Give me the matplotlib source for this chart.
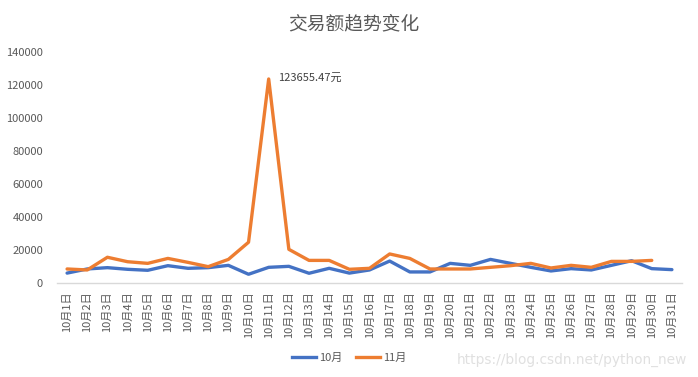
import matplotlib
matplotlib.use("Agg")
import matplotlib.pyplot as plt
from matplotlib.lines import Line2D

plt.rcParams['font.family'] = ['Noto Sans CJK SC', 'DejaVu Sans']

days = [f"10月{i}日" for i in range(1, 32)]
oct_values = [6000, 8500, 9300, 8300, 7700, 10500, 8900, 9300, 10700, 5300,
              9500, 10100, 5900, 8900, 6000, 7900, 13300, 6700, 6700, 11900,
              10700, 14300, 11900, 9500, 7300, 8700, 7900, 10700, 13500, 8700, 8100]
nov_values = [8500, 7900, 15600, 12900, 11900, 14900, 12500, 9900, 14300, 24700,
              123655.47, 20400, 13700, 13700, 8300, 8900, 17600, 14900, 8500, 8500,
              8500, 9500, 10500, 11900, 9100, 10700, 9500, 13100, 13100, 13700]
peak_label = "123655.47元"
yticks = [0, 20000, 40000, 60000, 80000, 100000, 120000, 140000]

BLUE = "#4472C4"
ORANGE = "#ED7D31"
GREY = "#595959"

fig = plt.figure(figsize=(6.98, 3.77), dpi=100)
ax = fig.add_axes([57/698, 1-283/377, (682-57)/698, (283-52)/377])

x_oct = list(range(len(oct_values)))
x_nov = list(range(len(nov_values)))
ax.plot(x_oct, oct_values, color=BLUE, lw=2.4, solid_joinstyle='round', solid_capstyle='round')
ax.plot(x_nov, nov_values, color=ORANGE, lw=2.4, solid_joinstyle='round', solid_capstyle='round')

ax.set_xlim(-0.5, len(days) - 0.5)
ax.set_ylim(0, 140000)
ax.set_yticks(yticks)
ax.set_yticklabels([str(v) for v in yticks], fontsize=8, color=GREY)
ax.set_xticks(range(len(days)))
ax.set_xticklabels(days, rotation=90, fontsize=8, color=GREY)
ax.tick_params(axis='both', length=0, pad=6)
ax.tick_params(axis='y', pad=10)

for s in ['top', 'right', 'left']:
    ax.spines[s].set_visible(False)
ax.spines['bottom'].set_color('#d9d9d9')
ax.spines['bottom'].set_linewidth(1)

pk = nov_values.index(max(nov_values))
ax.annotate(peak_label, xy=(pk, nov_values[pk]), xytext=(7, 0.5), textcoords='offset points',
            fontsize=8, color='#404040', ha='left', va='center')

fig.text(354/698, 1-23.5/377, "交易额趋势变化", ha='center', va='center', fontsize=13.5, color=GREY)

handles = [Line2D([], [], color=BLUE, lw=2.4), Line2D([], [], color=ORANGE, lw=2.4)]
fig.legend(handles, ["10月", "11月"], loc='center', bbox_to_anchor=(349/698, 1-358/377),
           ncol=2, frameon=False, fontsize=8, handlelength=2.2, handletextpad=0.25,
           columnspacing=1.2, labelcolor=GREY)

fig.text(687/698, 1-360/377, "https://blog.csdn.net/python_new", ha='right', va='center',
         fontsize=9.9, color='#e0e0e0', family=['DejaVu Sans'])

fig.savefig("out.png", dpi=100)
